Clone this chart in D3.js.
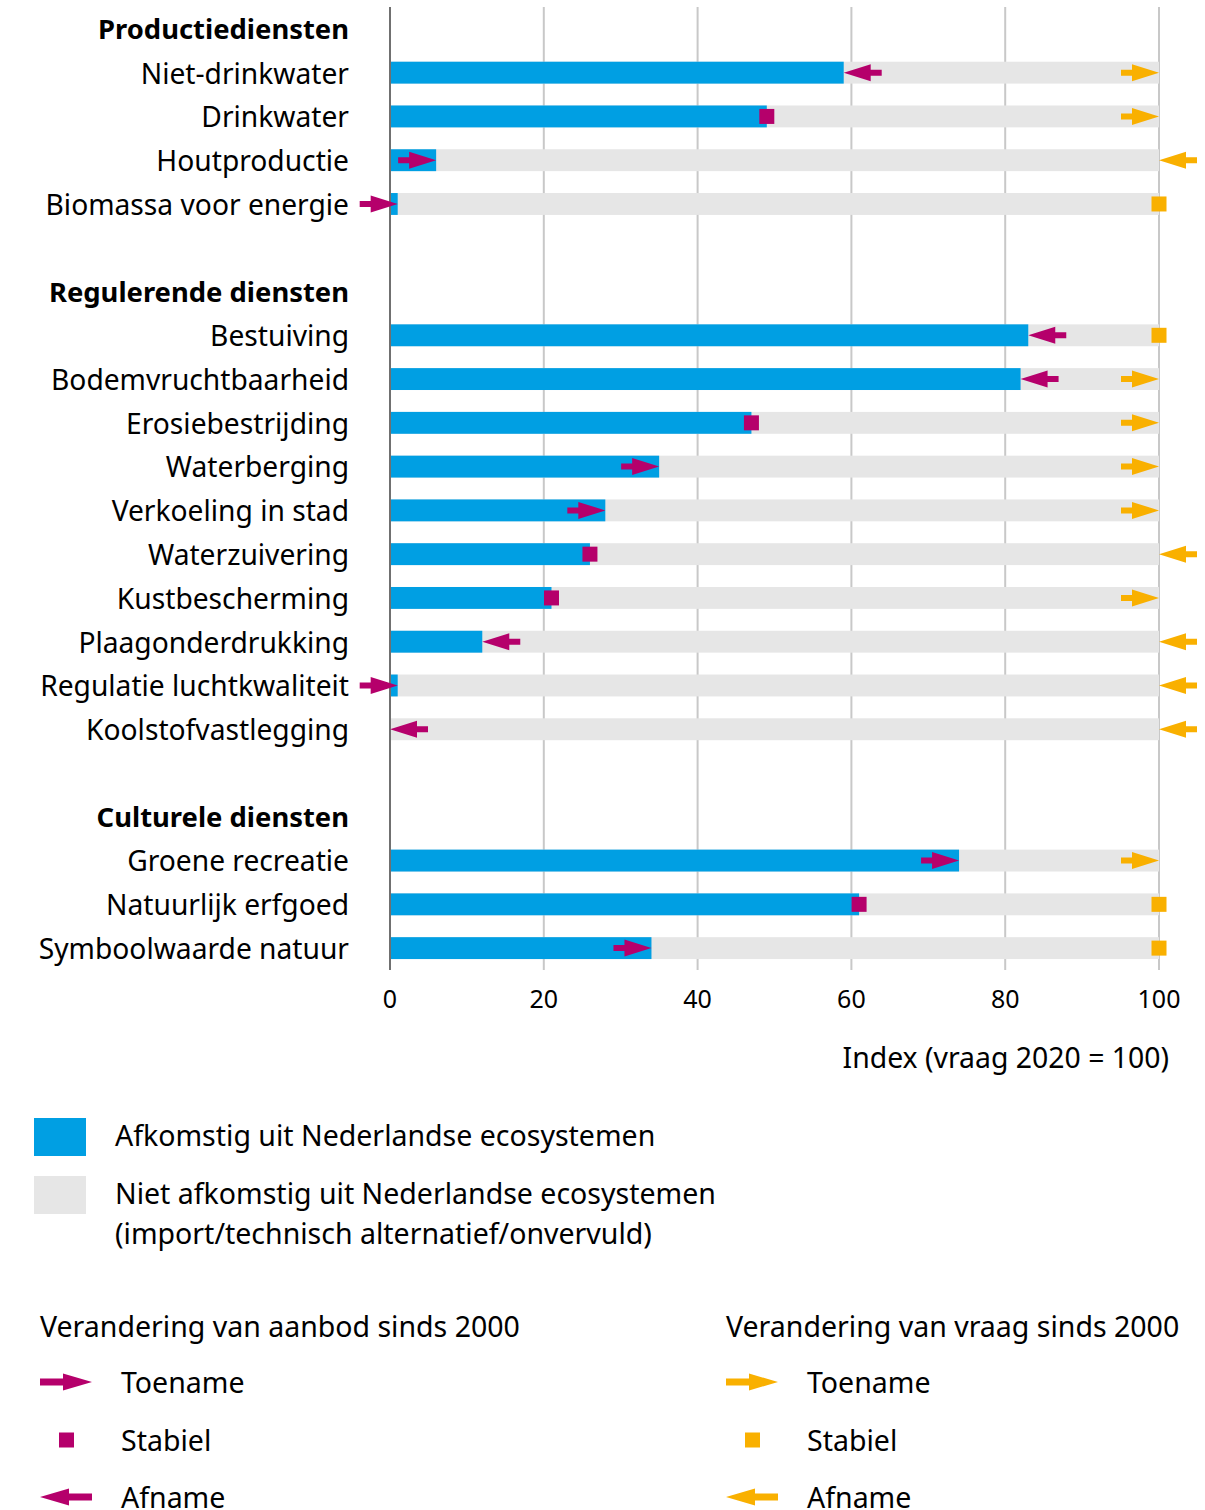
<!DOCTYPE html>
<html>
<head>
<meta charset="utf-8">
<script src="https://cdn.jsdelivr.net/npm/d3@7"></script>
<style>
  body { margin: 0; background: #fff; }
  text { font-family: "Noto Sans", sans-serif; fill: #000; }
</style>
</head>
<body>
<div id="chart"></div>
<script>
// groups and categories
var groups = ["Productiediensten", "Regulerende diensten", "Culturele diensten"];
var categories = ["Niet-drinkwater", "Drinkwater", "Houtproductie", "Biomassa voor energie",
  "Bestuiving", "Bodemvruchtbaarheid", "Erosiebestrijding", "Waterberging", "Verkoeling in stad",
  "Waterzuivering", "Kustbescherming", "Plaagonderdrukking", "Regulatie luchtkwaliteit", "Koolstofvastlegging",
  "Groene recreatie", "Natuurlijk erfgoed", "Symboolwaarde natuur"];
var groupOf = [0, 0, 0, 0, 1, 1, 1, 1, 1, 1, 1, 1, 1, 1, 2, 2, 2];
// share from Dutch ecosystems (index, demand 2020 = 100)
var supply = [59, 49, 6, 1, 83, 82, 47, 35, 28, 26, 21, 12, 1, 0, 74, 61, 34];
// change since 2000: "toe" = increase, "stabiel" = stable, "af" = decrease
var supplyTrend = ["af", "stabiel", "toe", "toe", "af", "af", "stabiel", "toe", "toe",
  "stabiel", "stabiel", "af", "toe", "af", "toe", "stabiel", "toe"];
var demandTrend = ["toe", "toe", "af", "stabiel", "stabiel", "toe", "toe", "toe", "toe",
  "af", "toe", "af", "af", "af", "toe", "stabiel", "stabiel"];
var xTicks = [0, 20, 40, 60, 80, 100];

var blue = "#009fe3", grey = "#e6e6e6", magenta = "#b5006b", orange = "#f9b000";

var W = 1205, H = 1510;
var svg = d3.select("#chart").append("svg")
    .attr("width", W)
    .attr("height", H);

// build the row list: heading, items, blank spacer between groups
var rows = [];
groups.forEach(function(g, gi) {
  rows.push({key: "h" + gi, type: "head", label: g});
  categories.forEach(function(c, i) {
    if (groupOf[i] === gi) rows.push({key: "c" + i, type: "item", label: c, i: i});
  });
  if (gi < groups.length - 1) rows.push({key: "b" + gi, type: "blank"});
});

var x = d3.scaleLinear().domain([0, 100]).range([390, 1159]);
var y = d3.scaleBand()
    .domain(rows.map(function(d) { return d.key; }))
    .range([7, 970])
    .paddingInner(0.5)
    .paddingOuter(0.25);
var bh = y.bandwidth();
function cy(key) { return y(key) + bh / 2; }

// gridlines
svg.append("g").selectAll("line")
    .data(xTicks.slice(1))
  .enter().append("line")
    .attr("x1", function(d) { return x(d); })
    .attr("x2", function(d) { return x(d); })
    .attr("y1", 7).attr("y2", 970)
    .attr("stroke", "#c8c8c8").attr("stroke-width", 2);

var items = rows.filter(function(d) { return d.type === "item"; });

// grey background bars (0-100)
svg.append("g").selectAll("rect")
    .data(items)
  .enter().append("rect")
    .attr("x", x(0))
    .attr("y", function(d) { return y(d.key); })
    .attr("width", x(100) - x(0))
    .attr("height", bh)
    .attr("fill", grey);

// blue bars
svg.append("g").selectAll("rect")
    .data(items)
  .enter().append("rect")
    .attr("x", x(0))
    .attr("y", function(d) { return y(d.key); })
    .attr("width", function(d) { return x(supply[d.i]) - x(0); })
    .attr("height", bh)
    .attr("fill", blue);

// axis line
svg.append("line")
    .attr("x1", x(0)).attr("x2", x(0))
    .attr("y1", 7).attr("y2", 970)
    .attr("stroke", "#707070").attr("stroke-width", 2);

// arrow shape, dir = 1 points right, -1 points left
function arrow(tip, yc, dir, headLen, headH, shaftLen, shaftH) {
  var base = tip - dir * headLen, tail = base - dir * shaftLen;
  return "M" + tip + "," + yc +
    "L" + base + "," + (yc - headH / 2) +
    "L" + base + "," + (yc - shaftH / 2) +
    "L" + tail + "," + (yc - shaftH / 2) +
    "L" + tail + "," + (yc + shaftH / 2) +
    "L" + base + "," + (yc + shaftH / 2) +
    "L" + base + "," + (yc + headH / 2) + "Z";
}

function marker(g, trend, xp, yc, color) {
  if (trend === "stabiel") {
    g.append("rect")
      .attr("x", xp - 7.5).attr("y", yc - 7.5)
      .attr("width", 15).attr("height", 15)
      .attr("fill", color);
  } else {
    g.append("path")
      .attr("d", arrow(xp, yc, trend === "toe" ? 1 : -1, 27, 17, 11, 6))
      .attr("fill", color);
  }
}

var marks = svg.append("g");
items.forEach(function(d) {
  marker(marks, supplyTrend[d.i], x(supply[d.i]), cy(d.key), magenta);
  marker(marks, demandTrend[d.i], x(100), cy(d.key), orange);
});

// row labels
svg.append("g").selectAll("text")
    .data(rows.filter(function(d) { return d.type !== "blank"; }))
  .enter().append("text")
    .attr("x", 349)
    .attr("y", function(d) { return cy(d.key) + 1; })
    .attr("dy", "0.35em")
    .attr("text-anchor", "end")
    .style("font-size", function(d) { return d.type === "head" ? "27.4px" : "28.2px"; })
    .style("font-weight", function(d) { return d.type === "head" ? "bold" : "normal"; })
    .text(function(d) { return d.label; });

// tick labels
svg.append("g").selectAll("text")
    .data(xTicks)
  .enter().append("text")
    .attr("x", function(d) { return x(d); })
    .attr("y", 1008)
    .attr("text-anchor", "middle")
    .style("font-size", "25px")
    .text(function(d) { return d; });

svg.append("text")
    .attr("x", 1169).attr("y", 1068)
    .attr("text-anchor", "end")
    .style("font-size", "28.4px")
    .text("Index (vraag 2020 = 100)");

// legend: bars
var lfs = "28.5px";
svg.append("rect").attr("x", 34).attr("y", 1118).attr("width", 52).attr("height", 38).attr("fill", blue);
svg.append("text").attr("x", 115).attr("y", 1146).style("font-size", lfs)
    .text("Afkomstig uit Nederlandse ecosystemen");
svg.append("rect").attr("x", 34).attr("y", 1176).attr("width", 52).attr("height", 38).attr("fill", grey);
svg.append("text").attr("x", 115).attr("y", 1204).style("font-size", lfs)
    .text("Niet afkomstig uit Nederlandse ecosystemen");
svg.append("text").attr("x", 115).attr("y", 1244).style("font-size", lfs)
    .text("(import/technisch alternatief/onvervuld)");

// legend: change markers
var legendCols = [
  {x: 40, title: "Verandering van aanbod sinds 2000", color: magenta},
  {x: 726, title: "Verandering van vraag sinds 2000", color: orange}
];
var legendItems = [["toe", "Toename", 1382], ["stabiel", "Stabiel", 1440], ["af", "Afname", 1497]];
legendCols.forEach(function(c) {
  var g = svg.append("g");
  g.append("text").attr("x", c.x).attr("y", 1337).style("font-size", lfs).text(c.title);
  legendItems.forEach(function(it) {
    if (it[0] === "stabiel") {
      g.append("rect").attr("x", c.x + 19).attr("y", it[2] - 7.5)
        .attr("width", 15).attr("height", 15).attr("fill", c.color);
    } else {
      var tip = it[0] === "toe" ? c.x + 52 : c.x;
      g.append("path")
        .attr("d", arrow(tip, it[2], it[0] === "toe" ? 1 : -1, 29, 17, 23, 7))
        .attr("fill", c.color);
    }
    g.append("text").attr("x", c.x + 81).attr("y", it[2] + 1).attr("dy", "0.35em")
      .style("font-size", lfs).text(it[1]);
  });
});
</script>
</body>
</html>
